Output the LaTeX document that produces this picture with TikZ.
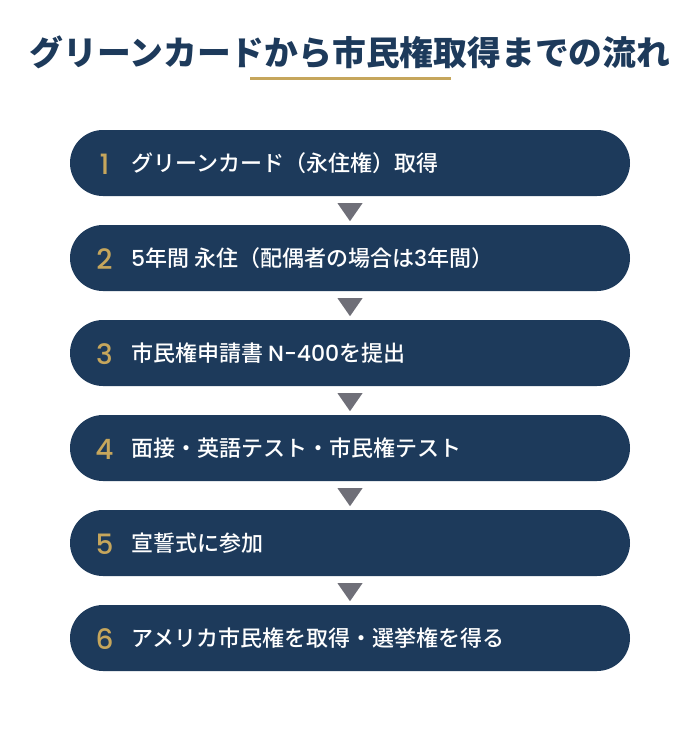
\documentclass[tikz,border=0pt]{standalone}
\usepackage{fontspec}
\newfontfamily\cjk{Noto Sans CJK JP}
\newfontfamily\cjkm{Noto Sans CJK JP Medium}
\newfontfamily\lat{Poppins Medium}
\definecolor{navy}{HTML}{1D3A5B}
\definecolor{gold}{HTML}{C6A65C}
\definecolor{arrowgray}{HTML}{6F6F78}
\begin{document}
\begin{tikzpicture}[x=1pt, y=-1pt,
    stepbox/.style={fill=navy, rounded corners=33pt, minimum width=560pt, minimum height=66pt, inner sep=0pt},
    stepnum/.style={gold, font=\lat\fontsize{28}{28}\selectfont, inner sep=0pt},
    steptext/.style={white, anchor=west, font=\cjkm\fontsize{22}{22}\selectfont, inner sep=0pt}]
        \useasboundingbox[fill=white] (0,0) rectangle (700,750);

        % Title
        \node[navy, font=\cjk\bfseries\fontsize{33.8}{33.8}\selectfont, inner sep=0pt] (title) at (350,52) {グリーンカードから市民権取得までの流れ};
        \draw[gold, line width=3pt] (250,78.5) -- (451,78.5);

        % Steps
        \node[stepbox] (step1) at (350,163) {};
        \node[stepbox] (step2) at (350,258) {};
        \node[stepbox] (step3) at (350,353) {};
        \node[stepbox] (step4) at (350,448) {};
        \node[stepbox] (step5) at (350,543) {};
        \node[stepbox] (step6) at (350,638) {};

        \node[stepnum] (num1) at (104.5,164) {1};
        \node[stepnum] (num2) at (104.5,259) {2};
        \node[stepnum] (num3) at (104.5,354) {3};
        \node[stepnum] (num4) at (104.5,449) {4};
        \node[stepnum] (num5) at (104.5,544) {5};
        \node[stepnum] (num6) at (104.5,639) {6};

        \node[steptext] (text1) at (131,163) {グリーンカード（永住権）取得};
        \node[steptext] (text2) at (131,258) {{\lat 5}年間 永住（配偶者の場合は{\lat 3}年間）};
        \node[steptext] (text3) at (131,353) {市民権申請書 {\lat N-400}を提出};
        \node[steptext] (text4) at (131,448) {面接・英語テスト・市民権テスト};
        \node[steptext] (text5) at (131,543) {宣誓式に参加};
        \node[steptext] (text6) at (131,638) {アメリカ市民権を取得・選挙権を得る};

        % Down markers
        \fill[arrowgray] ([xshift=-12.5pt, yshift=-7pt]step1.south) -- ([xshift=12.5pt, yshift=-7pt]step1.south) -- ([yshift=-25pt]step1.south) -- cycle;
        \fill[arrowgray] ([xshift=-12.5pt, yshift=-7pt]step2.south) -- ([xshift=12.5pt, yshift=-7pt]step2.south) -- ([yshift=-25pt]step2.south) -- cycle;
        \fill[arrowgray] ([xshift=-12.5pt, yshift=-7pt]step3.south) -- ([xshift=12.5pt, yshift=-7pt]step3.south) -- ([yshift=-25pt]step3.south) -- cycle;
        \fill[arrowgray] ([xshift=-12.5pt, yshift=-7pt]step4.south) -- ([xshift=12.5pt, yshift=-7pt]step4.south) -- ([yshift=-25pt]step4.south) -- cycle;
        \fill[arrowgray] ([xshift=-12.5pt, yshift=-7pt]step5.south) -- ([xshift=12.5pt, yshift=-7pt]step5.south) -- ([yshift=-25pt]step5.south) -- cycle;
    \end{tikzpicture}
\end{document}
